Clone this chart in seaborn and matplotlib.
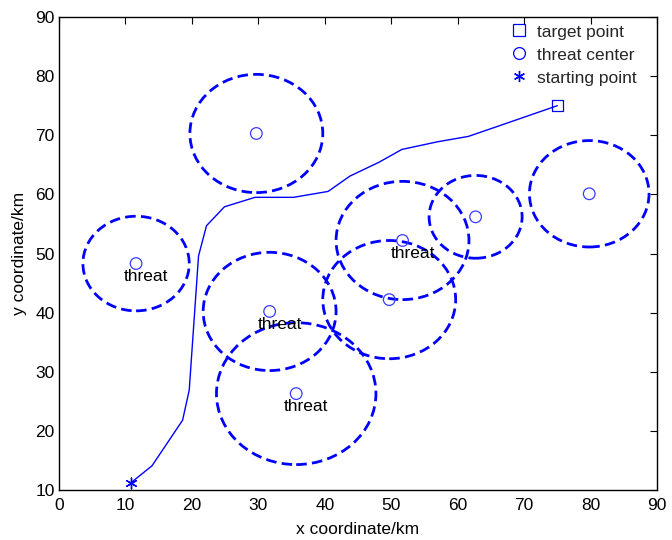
import numpy as np
import pandas as pd
import matplotlib
matplotlib.use("Agg")
import matplotlib.pyplot as plt
import seaborn as sns
from matplotlib.patches import Circle
from matplotlib.lines import Line2D

sns.set_theme(style="white")
plt.rcParams['font.family'] = ['Liberation Sans', 'DejaVu Sans']

# path (x, y) in km
path_x = [10.8, 14.0, 18.6, 19.6, 21.0, 22.2, 24.9, 29.5, 35.3, 40.5, 43.8, 48.1, 51.6, 57.0, 61.6, 66.0, 75.0]
path_y = [11.2, 14.1, 21.8, 26.9, 49.6, 54.7, 57.9, 59.5, 59.5, 60.5, 63.1, 65.4, 67.6, 68.9, 69.8, 71.5, 75.0]

# threats: centre and radius
threat_x = [11.6, 29.7, 31.7, 35.7, 49.7, 51.7, 62.7, 79.8]
threat_y = [48.3, 70.3, 40.2, 26.3, 42.2, 52.2, 56.2, 60.1]
threat_r = [8, 10, 10, 12, 10, 10, 7, 9]
label_idx = [0, 2, 3, 5]   # threats annotated with "threat"

target = (75.0, 75.0)
start = (10.8, 11.2)

xticks = list(range(0, 91, 10))
yticks = list(range(10, 91, 10))

fig = plt.figure(figsize=(6.72, 5.40), dpi=100)
ax = fig.add_axes([59/672, 1-490/540, 598/672, 473/540])

blue = '#0000ff'
fs = 12.5

df_path = pd.DataFrame({'x': path_x, 'y': path_y})
sns.lineplot(data=df_path, x='x', y='y', sort=False, estimator=None, color=blue, lw=1.0, ax=ax)

for cx, cy, r in zip(threat_x, threat_y, threat_r):
    ax.add_patch(Circle((cx, cy), r, fill=False, edgecolor=blue, lw=2.0,
                        linestyle=(0, (3.8, 1.9))))

df_thr = pd.DataFrame({'x': threat_x, 'y': threat_y})
sns.scatterplot(data=df_thr, x='x', y='y', marker='o', s=70, facecolor='none',
                edgecolor='#3a3aff', linewidth=0.9, ax=ax, zorder=4)

for i in label_idx:
    ax.text(threat_x[i] + 1.5, threat_y[i] - 2.2, 'threat', ha='center', va='center',
            fontsize=fs, color='black', zorder=5)

sns.scatterplot(x=[target[0]], y=[target[1]], marker='s', s=70, facecolor='none',
                edgecolor=blue, linewidth=0.9, ax=ax, zorder=4)
sns.scatterplot(x=[start[0]], y=[start[1]], marker=(6, 2, 0), s=60,
                color=blue, edgecolor=blue, linewidth=1.0, ax=ax, zorder=4)

ax.set_xlim(0, 90)
ax.set_ylim(10, 90)
ax.set_xticks(xticks)
ax.set_yticks(yticks)
ax.set_xlabel('x coordinate/km', fontsize=fs, color='black', labelpad=6)
ax.set_ylabel('y coordinate/km', fontsize=fs, color='black', labelpad=6)
ax.tick_params(direction='in', length=5, width=0.8, top=True, right=True,
               labelsize=fs, colors='black')
ax.tick_params(axis='x', pad=6)
ax.tick_params(axis='y', pad=3)
for s in ax.spines.values():
    s.set_color('black')
    s.set_linewidth(1.0)

handles = [
    Line2D([], [], marker='s', ls='none', mfc='none', mec=blue, ms=8.5, mew=0.9),
    Line2D([], [], marker='o', ls='none', mfc='none', mec=blue, ms=8.5, mew=0.9),
    Line2D([], [], marker=(6, 2, 0), ls='none', color=blue, ms=8, mew=1.0),
]
ax.legend(handles, ['target point', 'threat center', 'starting point'], loc='upper right',
          bbox_to_anchor=(0.978, 0.999), frameon=False, fontsize=fs,
          handletextpad=0.45, borderaxespad=0.0, labelspacing=0.45, handlelength=1.2)

fig.savefig('out.png', dpi=100)
